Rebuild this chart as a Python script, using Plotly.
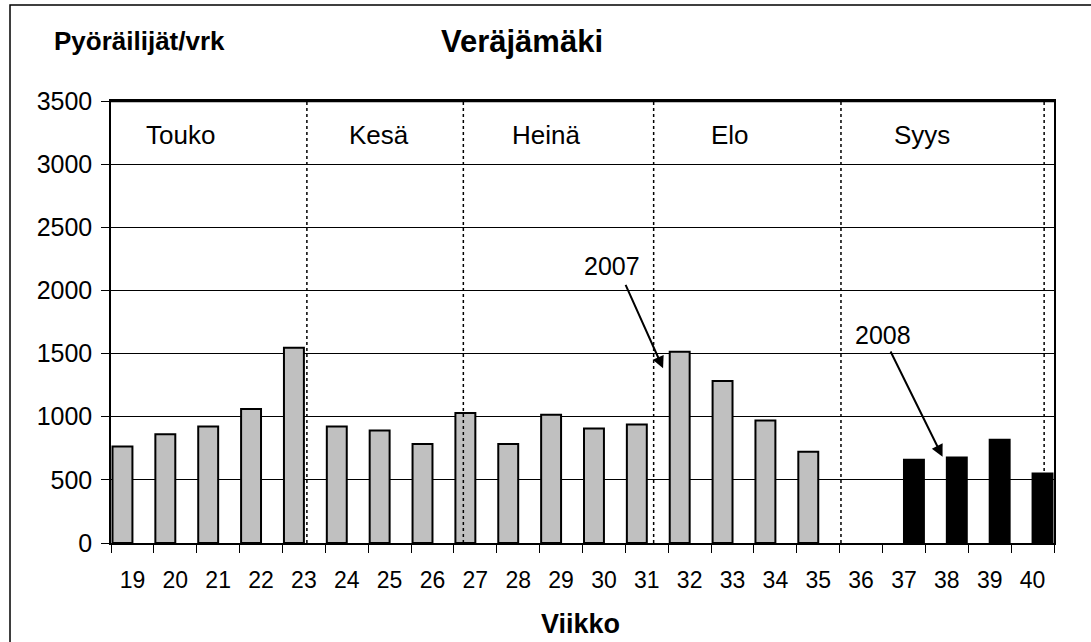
import plotly.graph_objects as go

weeks = list(range(19, 41))
tick_labels = [str(w) for w in weeks]
values_2007 = [764, 862, 922, 1062, 1547, 922, 890, 783, 1030, 783, 1015, 906,
               938, 1515, 1283, 970, 722, None, None, None, None, None]
values_2008 = [None] * 18 + [659, 677, 817, 550]
months = ["Touko", "Kesä", "Heinä", "Elo", "Syys"]
month_label_x = [20.13, 24.75, 28.65, 32.94, 37.41]
month_bounds = [23.07, 26.72, 31.16, 35.53, 40.27]

FONT = "Liberation Sans, Arial, sans-serif"

fig = go.Figure()
fig.add_trace(go.Bar(x=weeks, y=values_2007, name="2007",
                     marker=dict(color="#C0C0C0", line=dict(color="black", width=2))))
fig.add_trace(go.Bar(x=weeks, y=values_2008, name="2008",
                     marker=dict(color="black", line=dict(color="black", width=2))))

shapes = []
for b in month_bounds:
    shapes.append(dict(type="line", xref="x", yref="y", x0=b, x1=b, y0=0, y1=3500,
                       line=dict(color="black", width=1.5, dash="dot"), layer="above"))
# outer chart border
shapes.append(dict(type="rect", xref="paper", yref="paper", x0=-0.1071, x1=1.2,
                   y0=-0.4, y1=1.2172, line=dict(color="black", width=1.5), layer="below"))
# top frame line (thicker)
shapes.append(dict(type="line", xref="paper", yref="paper", x0=0, x1=1, y0=1, y1=1,
                   line=dict(color="black", width=2.5)))

annotations = []
for m, mx in zip(months, month_label_x):
    annotations.append(dict(x=mx, y=3231, xref="x", yref="y", text=m, showarrow=False,
                            xanchor="center", yanchor="middle",
                            font=dict(family=FONT, size=26, color="black")))
annotations += [
    dict(x=30.18, y=2196, xref="x", yref="y", text="2007", showarrow=False,
         xanchor="center", yanchor="middle", font=dict(family=FONT, size=25, color="black")),
    dict(x=31.38, y=1383, ax=30.49, ay=2056, xref="x", yref="y", axref="x", ayref="y",
         text="", showarrow=True, arrowhead=2, arrowsize=1.2, arrowwidth=2, arrowcolor="black"),
    dict(x=36.5, y=1647, xref="x", yref="y", text="2008", showarrow=False,
         xanchor="center", yanchor="middle", font=dict(family=FONT, size=25, color="black")),
    dict(x=37.90, y=683, ax=36.67, ay=1528, xref="x", yref="y", axref="x", ayref="y",
         text="", showarrow=True, arrowhead=2, arrowsize=1.2, arrowwidth=2, arrowcolor="black"),
    dict(x=0.4358, y=1.1335, xref="paper", yref="paper", text="<b>Veräjämäki</b>",
         xanchor="center", yanchor="middle", showarrow=False,
         font=dict(family=FONT, size=31, color="black")),
    dict(x=0.0302, y=1.1357, xref="paper", yref="paper", text="<b>Pyöräilijät/vrk</b>",
         xanchor="center", yanchor="middle", showarrow=False,
         font=dict(family=FONT, size=26, color="black")),
    dict(x=0.4984, y=-0.1833, xref="paper", yref="paper", text="<b>Viikko</b>",
         xanchor="center", yanchor="middle", showarrow=False,
         font=dict(family=FONT, size=27, color="black")),
]

fig.update_layout(
    width=1091, height=642,
    margin=dict(l=111, r=37, t=101, b=99),
    paper_bgcolor="white", plot_bgcolor="white",
    barmode="group", bargap=0.07, bargroupgap=0,
    showlegend=False,
    shapes=shapes, annotations=annotations,
    font=dict(family=FONT, color="black"),
    xaxis=dict(range=[18.5, 40.5], tickmode="array", tickvals=weeks, ticktext=tick_labels,
               ticks="", ticklen=0, showgrid=False, zeroline=False,
               showline=True, linecolor="black", linewidth=1.5, mirror=True,
               tickfont=dict(family=FONT, size=23, color="black"), ticklabelstandoff=16,
               minor=dict(tickmode="array", tickvals=[w - 0.5 for w in weeks] + [40.5],
                          ticks="outside", ticklen=8, tickcolor="black", tickwidth=1,
                          showgrid=False)),
    yaxis=dict(range=[0, 3500], tickmode="linear", tick0=0, dtick=500,
               ticks="outside", ticklen=8, tickcolor="black", tickwidth=1,
               showgrid=True, gridcolor="black", gridwidth=1, zeroline=False,
               showline=True, linecolor="black", linewidth=1.5, mirror=True,
               tickfont=dict(family=FONT, size=25, color="black"), ticklabelstandoff=4),
)

fig.write_html("out.html", config={"displayModeBar": False},
               post_script="document.body.style.margin='0';document.body.style.overflow='hidden';")
